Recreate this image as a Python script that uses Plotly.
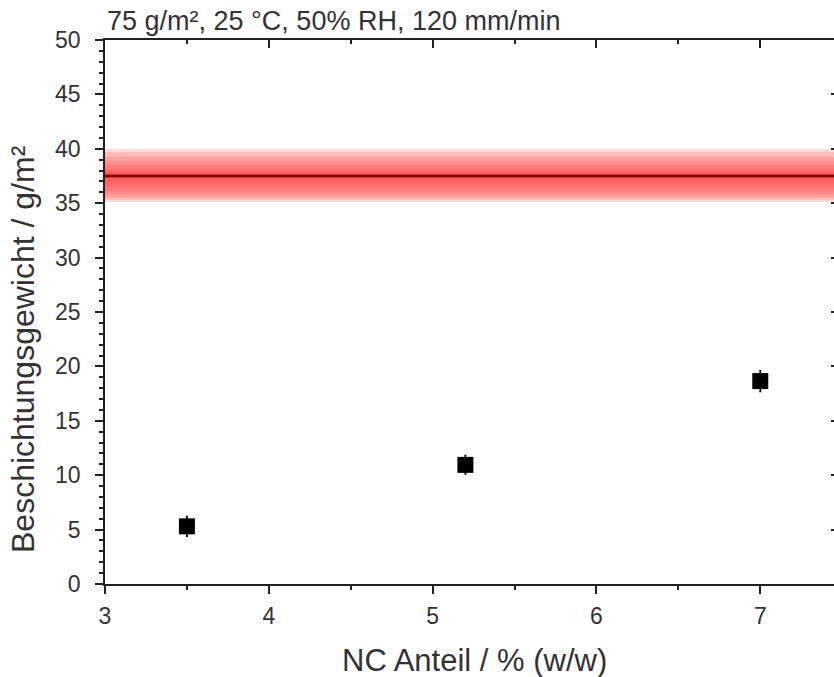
import plotly.graph_objects as go

# Data
nc_anteil = [3.5, 5.2, 7.0]
gewicht = [5.3, 10.95, 18.65]
gewicht_err = [0.9, 0.85, 0.95]

ref_value = 37.5
# band layers (lower, upper) building the gradient around the reference
band_lower = [35.1, 35.3, 35.5, 35.8, 36.1, 36.5, 36.9]
band_upper = [40.0, 39.7, 39.3, 38.9, 38.5, 38.1, 37.9]

title_text = "75 g/m², 25 °C, 50% RH, 120 mm/min"
x_title = "NC Anteil / % (w/w)"
y_title = "Beschichtungsgewicht / g/m²"

font_family = "Liberation Sans, Arial, sans-serif"
txt = "#333333"
axc = "#222222"

fig = go.Figure()

shapes = []
for lo, hi in zip(band_lower, band_upper):
    shapes.append(dict(type="rect", xref="paper", yref="y", x0=0, x1=1, y0=lo, y1=hi,
                       fillcolor="rgba(255,30,30,0.16)", line=dict(width=0), layer="below"))
shapes.append(dict(type="line", xref="paper", yref="y", x0=0, x1=1, y0=ref_value, y1=ref_value,
                   line=dict(color="#8b0000", width=3), layer="below"))

fig.add_trace(go.Scatter(
    x=nc_anteil, y=gewicht, mode="markers",
    marker=dict(symbol="square", size=16, color="black"),
    error_y=dict(type="data", array=gewicht_err, color="black", thickness=1.5, width=1),
    showlegend=False,
))
# invisible trace for top/right axes
fig.add_trace(go.Scatter(x=[3], y=[0], xaxis="x2", yaxis="y2", mode="markers",
                         marker=dict(opacity=0), showlegend=False, hoverinfo="skip"))

fig.update_layout(
    width=834, height=677,
    margin=dict(l=105, r=0, t=40, b=93),
    paper_bgcolor="white", plot_bgcolor="white",
    font=dict(family=font_family, color=txt, size=22),
    shapes=shapes,
    xaxis=dict(range=[3, 7.45], dtick=1, tick0=3, ticks="outside", ticklen=8, tickwidth=1.5,
               tickcolor=axc, showline=True, linecolor=axc, linewidth=1.5,
               showgrid=False, zeroline=False, ticklabelstandoff=3,
               minor=dict(dtick=0.5, ticks="outside", ticklen=4, tickwidth=1.5, tickcolor=axc),
               tickfont=dict(size=23, color=txt)),
    yaxis=dict(range=[0, 50], dtick=5, tick0=0, ticks="outside", ticklen=8, tickwidth=1.5,
               tickcolor=axc, showline=True, linecolor=axc, linewidth=1.5,
               showgrid=False, zeroline=False, ticklabelstandoff=10,
               minor=dict(dtick=1, ticks="outside", ticklen=4, tickwidth=1.5, tickcolor=axc),
               tickfont=dict(size=23, color=txt)),
    xaxis2=dict(overlaying="x", side="top", range=[3, 7.45], dtick=1, tick0=3, ticks="inside",
                ticklen=8, tickwidth=1.5, tickcolor=axc, showline=True, linecolor=axc,
                linewidth=1.5, showticklabels=False, showgrid=False, zeroline=False,
                minor=dict(dtick=0.5, ticks="inside", ticklen=4, tickwidth=1.5, tickcolor=axc)),
    yaxis2=dict(overlaying="y", side="right", range=[0, 50], dtick=5, tick0=0, ticks="inside",
                ticklen=3, tickwidth=1.5, tickcolor=axc, showline=False,
                showticklabels=False, showgrid=False, zeroline=False),
    annotations=[
        dict(text=title_text, xref="paper", yref="paper", x=0, y=1.035,
             xanchor="left", yanchor="middle", showarrow=False,
             font=dict(size=27, color=txt)),
        dict(text=x_title, xref="paper", yref="paper", x=0.507, y=-0.14,
             xanchor="center", yanchor="middle", showarrow=False,
             font=dict(size=31, color=txt)),
        dict(text=y_title, xref="paper", yref="paper", x=0, y=0.432, xshift=-82,
             xanchor="center", yanchor="middle", showarrow=False, textangle=-90,
             font=dict(size=32, color=txt)),
    ],
)

fig.write_html("out.html", config={"displayModeBar": False},
               post_script="document.body.style.margin='0';")
